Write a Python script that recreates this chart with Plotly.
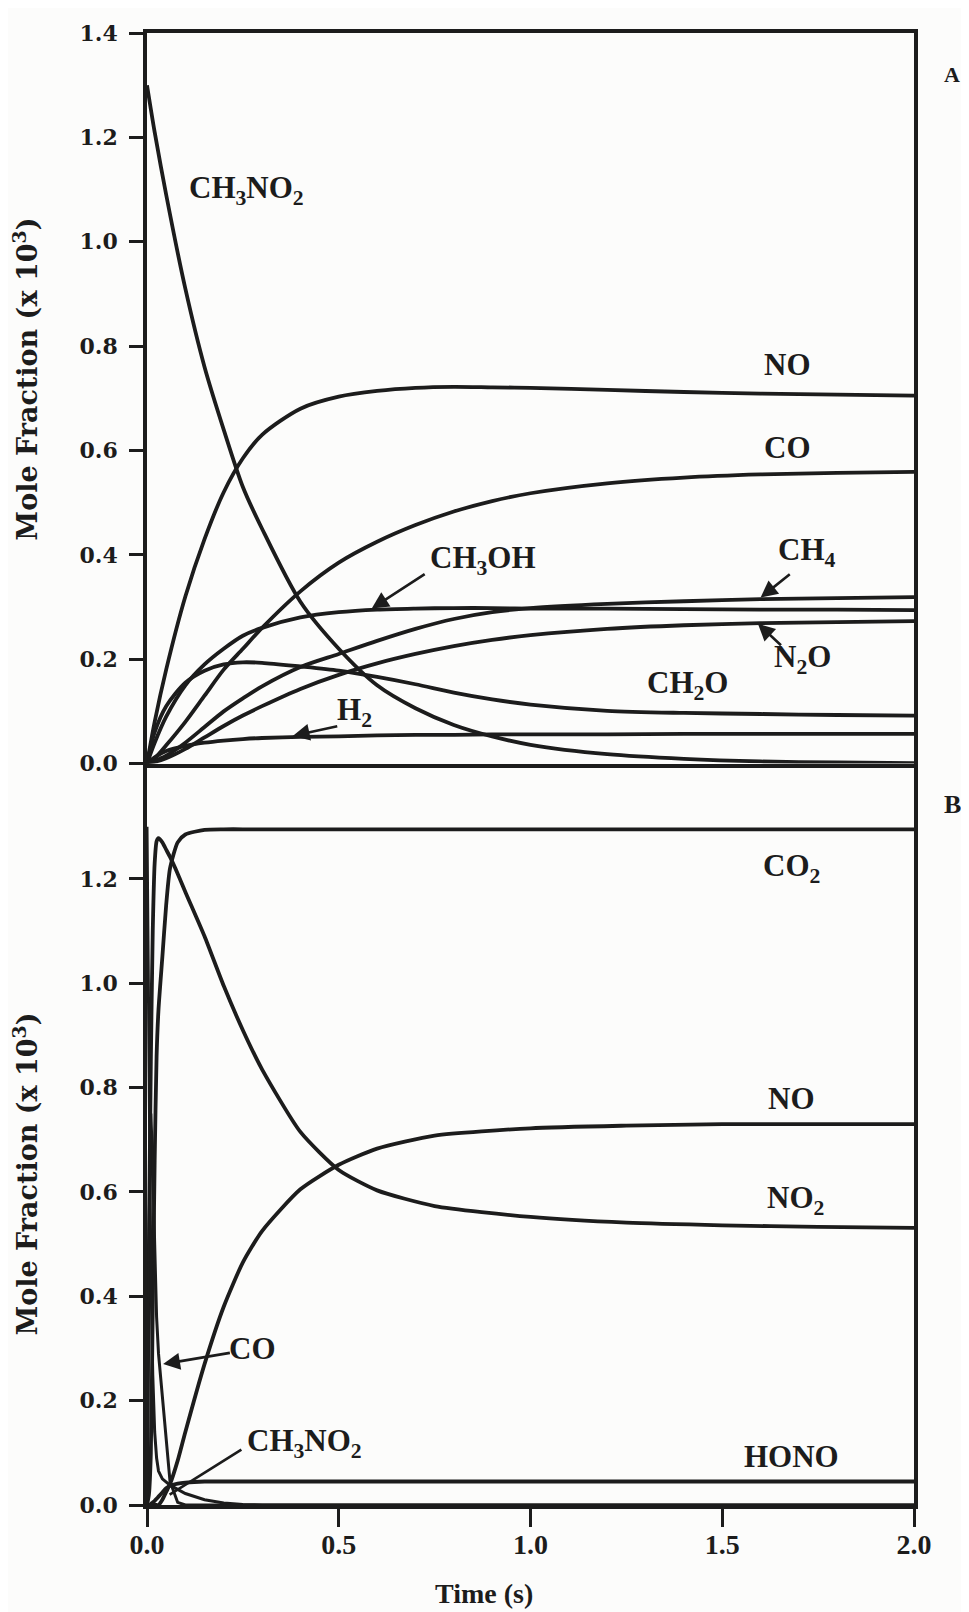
import plotly.graph_objects as go

# ---------------- data ----------------
# Panel A
tA = [0, 0.02, 0.05, 0.1, 0.15, 0.2, 0.25, 0.3, 0.4, 0.5, 0.6, 0.7, 0.8, 0.9, 1.0, 1.2, 1.4, 1.6, 1.8, 2.0]
ch3no2_A = [1.30, 1.21, 1.09, 0.91, 0.76, 0.64, 0.53, 0.45, 0.31, 0.22, 0.15, 0.106, 0.074, 0.052, 0.036, 0.018, 0.009, 0.004, 0.002, 0.001]
no_A = [0, 0.08, 0.18, 0.32, 0.43, 0.52, 0.585, 0.63, 0.68, 0.703, 0.714, 0.72, 0.722, 0.721, 0.72, 0.716, 0.712, 0.709, 0.707, 0.705]
co_A = [0, 0.01, 0.035, 0.08, 0.13, 0.18, 0.22, 0.26, 0.33, 0.385, 0.425, 0.457, 0.483, 0.503, 0.518, 0.537, 0.548, 0.554, 0.557, 0.559]
ch3oh_A = [0, 0.04, 0.09, 0.15, 0.19, 0.22, 0.245, 0.26, 0.28, 0.29, 0.295, 0.297, 0.298, 0.298, 0.297, 0.297, 0.296, 0.295, 0.295, 0.294]
ch2o_A = [0, 0.06, 0.11, 0.155, 0.178, 0.19, 0.194, 0.193, 0.186, 0.178, 0.166, 0.152, 0.136, 0.123, 0.113, 0.101, 0.097, 0.095, 0.093, 0.092]
ch4_A = [0, 0.005, 0.015, 0.04, 0.07, 0.10, 0.125, 0.148, 0.185, 0.21, 0.235, 0.258, 0.277, 0.29, 0.298, 0.306, 0.311, 0.315, 0.317, 0.319]
n2o_A = [0, 0.003, 0.01, 0.028, 0.05, 0.072, 0.092, 0.11, 0.143, 0.17, 0.192, 0.21, 0.225, 0.237, 0.246, 0.258, 0.265, 0.269, 0.271, 0.273]
h2_A = [0, 0.012, 0.024, 0.034, 0.04, 0.044, 0.047, 0.049, 0.051, 0.052, 0.054, 0.055, 0.055, 0.056, 0.056, 0.056, 0.057, 0.057, 0.057, 0.057]

# Panel B
tB = [0, 0.005, 0.01, 0.015, 0.02, 0.025, 0.03, 0.04, 0.05, 0.06, 0.08, 0.1, 0.15, 0.2, 0.25, 0.3, 0.4, 0.5, 0.6, 0.75, 1.0, 1.25, 1.5, 1.75, 2.0]
co2_B = [0, 0.02, 0.10, 0.38, 0.66, 0.86, 0.95, 1.05, 1.15, 1.22, 1.27, 1.285, 1.294, 1.295, 1.295, 1.295, 1.295, 1.295, 1.295, 1.295, 1.295, 1.295, 1.295, 1.295, 1.295]
no2_B = [0, 0.50, 0.85, 1.10, 1.23, 1.272, 1.278, 1.27, 1.256, 1.242, 1.21, 1.175, 1.09, 0.995, 0.91, 0.835, 0.715, 0.642, 0.603, 0.573, 0.552, 0.541, 0.536, 0.533, 0.531]
no_B = [0, 0, 0, 0, 0, 0, 0, 0.01, 0.025, 0.04, 0.085, 0.14, 0.27, 0.38, 0.465, 0.525, 0.605, 0.652, 0.683, 0.708, 0.722, 0.727, 0.73, 0.73, 0.73]
co_B = [0, 0.50, 0.75, 0.65, 0.50, 0.36, 0.29, 0.21, 0.13, 0.045, 0.005, 0, 0, 0, 0, 0, 0, 0, 0, 0, 0, 0, 0, 0, 0]
ch3no2_B = [1.30, 0.78, 0.45, 0.25, 0.14, 0.09, 0.065, 0.05, 0.043, 0.038, 0.03, 0.022, 0.01, 0.004, 0.001, 0, 0, 0, 0, 0, 0, 0, 0, 0, 0]
hono_B = [0, 0, 0.002, 0.005, 0.008, 0.012, 0.016, 0.024, 0.032, 0.037, 0.041, 0.043, 0.045, 0.045, 0.045, 0.045, 0.045, 0.045, 0.045, 0.045, 0.045, 0.045, 0.045, 0.045, 0.045]

y_ticks_A = [0, 0.2, 0.4, 0.6, 0.8, 1.0, 1.2, 1.4]
y_ticks_B = [0, 0.2, 0.4, 0.6, 0.8, 1.0, 1.2]
x_ticks = [0, 0.5, 1.0, 1.5, 2.0]

# ---------------- figure ----------------
INK = "#1c1c1c"
LW = 3.8
fig = go.Figure()

for ys in [ch3no2_A, no_A, co_A, ch3oh_A, ch2o_A, ch4_A, n2o_A, h2_A]:
    fig.add_trace(go.Scatter(x=tA, y=ys, mode="lines", xaxis="x", yaxis="y",
                             line=dict(color=INK, width=LW, shape="spline", smoothing=0.8),
                             showlegend=False, hoverinfo="skip"))
for ys in [co2_B, no2_B, no_B, hono_B]:
    fig.add_trace(go.Scatter(x=tB, y=ys, mode="lines", xaxis="x2", yaxis="y2",
                             line=dict(color=INK, width=LW, shape="spline", smoothing=0.6),
                             showlegend=False, hoverinfo="skip"))
for ys in [co_B, ch3no2_B]:
    fig.add_trace(go.Scatter(x=tB, y=ys, mode="lines", xaxis="x2", yaxis="y2",
                             line=dict(color=INK, width=3.0, shape="linear"),
                             showlegend=False, hoverinfo="skip"))

SERIF_B = dict(family="Liberation Serif", size=31, color=INK, weight="bold")
TICK_Y = dict(family="DejaVu Serif", size=22, color=INK, weight="bold")
TICK_X = dict(family="Liberation Serif", size=28, color=INK, weight="bold")

dom_split = 0.5037
axis_common = dict(showgrid=False, zeroline=False, showline=True, linecolor=INK, linewidth=3.5)
fig.update_layout(
    width=969, height=1612,
    margin=dict(l=139, r=63, t=14, b=115),
    paper_bgcolor="#fcfcfb", plot_bgcolor="#fcfcfb",
    xaxis=dict(domain=[0, 1], range=[0, 2], anchor="y", mirror=True, ticks="",
               showticklabels=False, **axis_common),
    yaxis=dict(domain=[dom_split, 1], range=[0, 1.4], anchor="x", mirror=True,
               ticks="outside", ticklen=14, tickwidth=3, tickcolor=INK,
               tickvals=y_ticks_A, ticktext=[f"{v:.1f}" for v in y_ticks_A],
               tickfont=TICK_Y, ticklabelstandoff=7, **axis_common),
    xaxis2=dict(domain=[0, 1], range=[0, 2], anchor="y2", mirror=False,
                ticks="outside", ticklen=18, tickwidth=3, tickcolor=INK,
                tickvals=x_ticks, ticktext=[f"{v:.1f}" for v in x_ticks],
                tickfont=TICK_X, ticklabelstandoff=-6, **axis_common),
    yaxis2=dict(domain=[0, dom_split], range=[0, 1.421], anchor="x2", mirror=True,
                ticks="outside", ticklen=14, tickwidth=3, tickcolor=INK,
                tickvals=y_ticks_B, ticktext=[f"{v:.1f}" for v in y_ticks_B],
                tickfont=TICK_Y, ticklabelstandoff=7, **axis_common),
)

ann = []
def lab(text, x, y, xr="x", yr="y", font=SERIF_B):
    ann.append(dict(text=text, x=x, y=y, xref=xr, yref=yr, showarrow=False, font=font,
                    xanchor="center", yanchor="middle"))

def arrow(x, y, ax, ay, xr="x", yr="y", head=2):
    ann.append(dict(text="", x=x, y=y, ax=ax, ay=ay, xref=xr, yref=yr, axref=xr, ayref=yr,
                    showarrow=True, arrowhead=head, arrowsize=1.3, arrowwidth=2.6, arrowcolor=INK))

# Panel A labels
lab("CH<sub>3</sub>NO<sub>2</sub>", 0.26, 1.10)
lab("NO", 1.67, 0.765)
lab("CO", 1.67, 0.605)
lab("CH<sub>3</sub>OH", 0.875, 0.39)
lab("CH<sub>4</sub>", 1.72, 0.405)
lab("N<sub>2</sub>O", 1.71, 0.20)
lab("CH<sub>2</sub>O", 1.41, 0.15)
lab("H<sub>2</sub>", 0.54, 0.098)
arrow(0.586, 0.297, 0.728, 0.365)
arrow(1.60, 0.318, 1.68, 0.365)
arrow(1.593, 0.268, 1.657, 0.224)
arrow(0.38, 0.053, 0.50, 0.072)

# Panel B labels
lab("CO<sub>2</sub>", 1.68, 1.22, "x2", "y2")
lab("NO", 1.68, 0.78, "x2", "y2")
lab("NO<sub>2</sub>", 1.69, 0.585, "x2", "y2")
lab("CO", 0.275, 0.30, "x2", "y2")
lab("CH<sub>3</sub>NO<sub>2</sub>", 0.41, 0.118, "x2", "y2")
lab("HONO", 1.68, 0.092, "x2", "y2")
arrow(0.042, 0.27, 0.22, 0.292, "x2", "y2")
ann.append(dict(text="", x=0.059, y=0.02, ax=0.25, ay=0.108, xref="x2", yref="y2",
                axref="x2", ayref="y2", showarrow=True, arrowhead=0, arrowwidth=2.6, arrowcolor=INK))

# Panel letters
lab("A", 1.05, 0.972, "paper", "paper", dict(family="Liberation Serif", size=22, color=INK, weight="bold"))
lab("B", 1.05, 0.476, "paper", "paper", dict(family="Liberation Serif", size=26, color=INK, weight="bold"))

# Axis titles
TITLE_F = dict(family="DejaVu Serif", size=27, color=INK, weight="bold")
for yc in [0.765, 0.225]:
    ann.append(dict(text="Mole Fraction (x 10<sup>3</sup>)", x=-0.158, y=yc, xref="paper", yref="paper",
                    xanchor="center", yanchor="middle",
                    textangle=-90, showarrow=False, font=TITLE_F))
ann.append(dict(text="Time (s)", x=0.44, y=-0.06, xref="paper", yref="paper", showarrow=False,
                xanchor="center", yanchor="middle",
                font=dict(family="Liberation Serif", size=28, color=INK, weight="bold")))

fig.update_layout(annotations=ann)
fig.write_html("out.html")
